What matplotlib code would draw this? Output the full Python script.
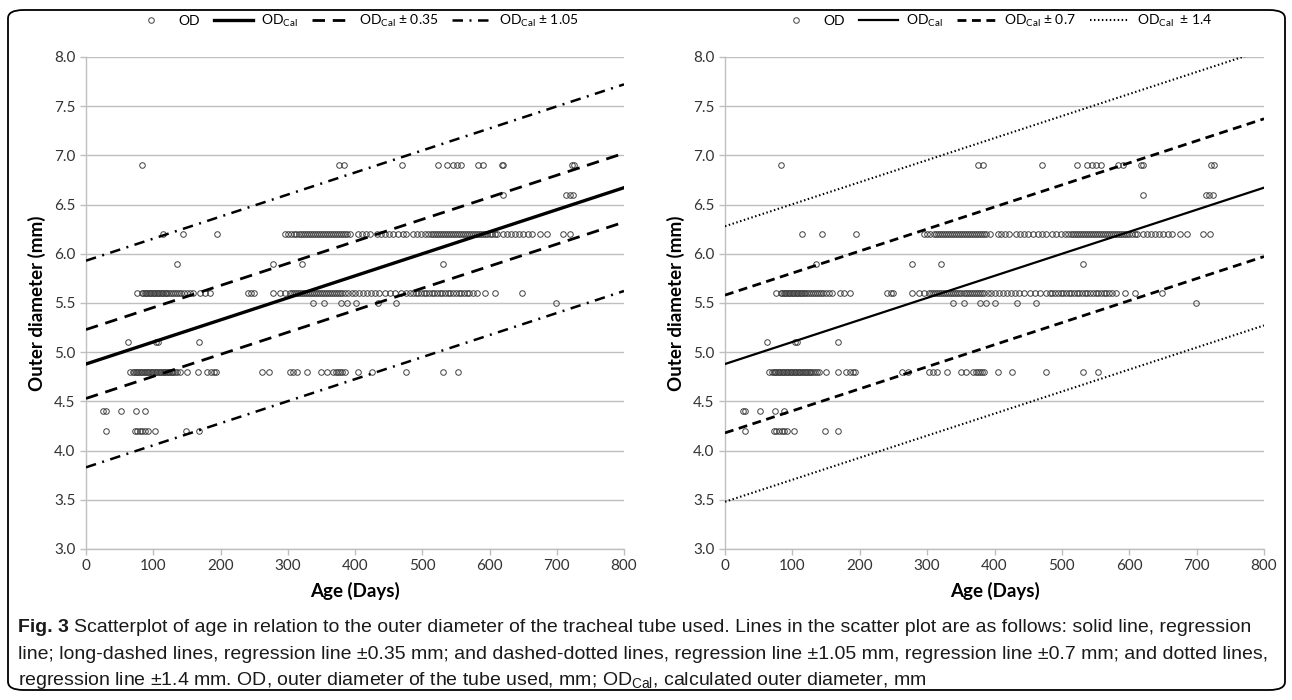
import matplotlib
matplotlib.use("Agg")
import matplotlib.pyplot as plt
from matplotlib.patches import FancyBboxPatch
import numpy as np

plt.rcParams['font.family'] = ['Lato', 'DejaVu Sans']
plt.rcParams['mathtext.fontset'] = 'custom'
plt.rcParams['mathtext.rm'] = 'Lato'

# ages (days) of patients, grouped by outer diameter of tube used (mm)
age_42 = [29, 73, 76, 80, 84, 88, 92, 102, 148, 168]
age_44 = [26, 29, 52, 74, 88]
age_48 = [65, 70, 72, 74, 76, 78, 80, 82, 84, 86, 88, 90, 92, 94, 96, 98, 100,
          102, 104, 106, 108, 110, 112, 114, 116, 118, 120, 122, 124, 126, 128,
          130, 133, 136, 140, 150, 167, 180, 186, 190, 193, 262, 272, 303, 308,
          314, 329, 350, 358, 368, 372, 375, 378, 381, 385, 405, 426, 476, 531, 553]
age_51 = [62, 104, 107, 168]
age_55 = [338, 354, 379, 388, 401, 434, 461, 699]
age_56 = [76, 83, 85, 87, 89, 91, 93, 95, 97, 99, 101, 103, 105, 107, 109, 111,
          113, 115, 117, 119, 121, 124, 127, 130, 133, 136, 139, 142, 146, 150,
          154, 159, 170, 177, 185, 241, 246, 250, 278, 288, 296, 303, 306, 309,
          312, 315, 318, 321, 324, 327, 330, 333, 336, 339, 342, 345, 348, 351,
          354, 357, 360, 363, 366, 369, 372, 375, 378, 381, 385, 390, 395, 400,
          406, 412, 418, 424, 430, 436, 444, 452, 460, 468, 476, 482, 486, 490,
          494, 498, 502, 506, 510, 514, 518, 522, 526, 530, 534, 538, 542, 546,
          550, 554, 558, 562, 566, 570, 575, 581, 593, 608, 648]
age_59 = [135, 278, 321, 531]
age_62 = [115, 144, 195, 296, 300, 305, 310, 313, 316, 319, 322, 325, 328, 331,
          334, 337, 340, 343, 346, 349, 352, 355, 358, 361, 364, 367, 370, 373,
          376, 379, 382, 385, 388, 393, 405, 410, 416, 422, 432, 438, 444, 450,
          457, 464, 471, 476, 486, 492, 498, 504, 509, 513, 516, 519, 522, 525,
          528, 531, 534, 537, 540, 543, 546, 549, 552, 555, 558, 561, 564, 567,
          570, 573, 576, 579, 582, 585, 588, 591, 594, 597, 600, 604, 608, 611,
          620, 626, 632, 638, 644, 650, 657, 663, 675, 685, 710, 720]
age_66 = [620, 714, 719, 724]
age_69 = [83, 376, 383, 470, 523, 537, 545, 551, 558, 583, 590, 618, 620, 722, 726]

groups = {4.2: age_42, 4.4: age_44, 4.8: age_48, 5.1: age_51, 5.5: age_55,
          5.6: age_56, 5.9: age_59, 6.2: age_62, 6.6: age_66, 6.9: age_69}
age = np.concatenate([np.array(v, float) for v in groups.values()])
od = np.concatenate([np.full(len(v), k) for k, v in groups.items()])

# regression OD_cal = b0 + b1 * age
b0, b1 = 4.88, 0.00224
left_bands = [0.35, 1.05]
right_bands = [0.7, 1.4]

fig = plt.figure(figsize=(12.92, 7), dpi=100)

border = FancyBboxPatch((8 / 1292, 10 / 700), 1277 / 1292, 680 / 700,
                        boxstyle="round,pad=0,rounding_size=0.012",
                        transform=fig.transFigure, fill=False,
                        edgecolor='black', linewidth=1.3)
fig.patches.append(border)

ax1 = fig.add_axes([86 / 1292, 151 / 700, 538 / 1292, 492 / 700])
ax2 = fig.add_axes([725 / 1292, 151 / 700, 539 / 1292, 492 / 700])

xs = np.array([0, 800])
cal = b0 + b1 * xs
cal_lbl = r'OD$_{\mathregular{Cal}}$'


def style_axes(ax):
    ax.set_xlim(0, 800)
    ax.set_ylim(3.0, 8.0)
    ax.set_xticks(np.arange(0, 801, 100))
    ax.set_yticks(np.arange(3.0, 8.01, 0.5))
    ax.set_yticklabels([f'{v:.1f}' for v in np.arange(3.0, 8.01, 0.5)])
    ax.yaxis.grid(True, color='#BFBFBF', linewidth=1.0)
    ax.set_axisbelow(True)
    for s in ['top', 'right']:
        ax.spines[s].set_visible(False)
    for s in ['left', 'bottom']:
        ax.spines[s].set_color('#BFBFBF')
        ax.spines[s].set_linewidth(1.0)
    ax.tick_params(colors='#BFBFBF', labelcolor='#333333', labelsize=11,
                   length=4, width=1.0, direction='out')
    ax.set_xlabel('Age (Days)', fontsize=13.5, fontweight='bold', labelpad=6)
    ax.set_ylabel('Outer diameter (mm)', fontsize=13.5, fontweight='bold', labelpad=6)


pt_kw = dict(marker='o', linestyle='none', markersize=4, markerfacecolor='none',
             markeredgecolor='#404040', markeredgewidth=0.7, label='OD', zorder=3)
leg_kw = dict(loc='center', bbox_to_anchor=(0.5, 1 + 36 / 492), ncol=4, frameon=False,
              fontsize=10, handlelength=2.8, columnspacing=1.0, handletextpad=0.6,
              borderpad=0)

# left panel
ax1.plot(age, od, **pt_kw)
ax1.plot(xs, cal, color='black', lw=2.4, label=cal_lbl, zorder=4)
for i, d in enumerate([1, -1]):
    ax1.plot(xs, cal + d * left_bands[0], color='black', lw=2.0, dashes=(4.5, 2.8),
             label=cal_lbl + ' ± 0.35' if i == 0 else None, zorder=4)
for i, d in enumerate([1, -1]):
    ax1.plot(xs, cal + d * left_bands[1], color='black', lw=1.8,
             dashes=(4.2, 2.6, 0.8, 2.6),
             label=cal_lbl + ' ± 1.05' if i == 0 else None, zorder=4)
style_axes(ax1)
ax1.legend(**leg_kw)

# right panel
ax2.plot(age, od, **pt_kw)
ax2.plot(xs, cal, color='black', lw=1.6, label=cal_lbl, zorder=4)
for i, d in enumerate([1, -1]):
    ax2.plot(xs, cal + d * right_bands[0], color='black', lw=2.0, dashes=(3.2, 2.0),
             label=cal_lbl + ' ± 0.7' if i == 0 else None, zorder=4)
for i, d in enumerate([1, -1]):
    ax2.plot(xs, cal + d * right_bands[1], color='black', lw=1.5, dashes=(0.7, 1.2),
             label=cal_lbl + '  ± 1.4' if i == 0 else None, zorder=4)
style_axes(ax2)
ax2.legend(**leg_kw)

# caption
cap_font = ['Liberation Sans', 'DejaVu Sans']
cap_size = 14.0
line1 = ('Scatterplot of age in relation to the outer diameter of the tracheal tube used. '
         'Lines in the scatter plot are as follows: solid line, regression')
line2 = ('line; long-dashed lines, regression line \u00b10.35 mm; and dashed-dotted lines, '
         'regression line \u00b11.05 mm, regression line \u00b10.7 mm; and dotted lines,')
line3 = ('regression line \u00b11.4 mm. OD, outer diameter of the tube used, mm; '
         'OD$_{\\mathregular{Cal}}$, calculated outer diameter, mm')

fig_lbl = fig.text(18 / 1292, 1 - 632 / 700, 'Fig. 3', fontsize=cap_size,
                   fontweight='bold', family=cap_font, va='baseline', color='#1a1a1a')
fig.canvas.draw()
ext = fig_lbl.get_window_extent()
fig.text(ext.x1 / 1292 + 5 / 1292, 1 - 632 / 700, line1, fontsize=cap_size,
         family=cap_font, va='baseline', color='#1a1a1a')
fig.text(18 / 1292, 1 - 659 / 700, line2, fontsize=cap_size, family=cap_font,
         va='baseline', color='#1a1a1a')
fig.text(18 / 1292, 1 - 685 / 700, line3, fontsize=cap_size, family=cap_font,
         va='baseline', color='#1a1a1a')

fig.savefig('out.png', dpi=100)
